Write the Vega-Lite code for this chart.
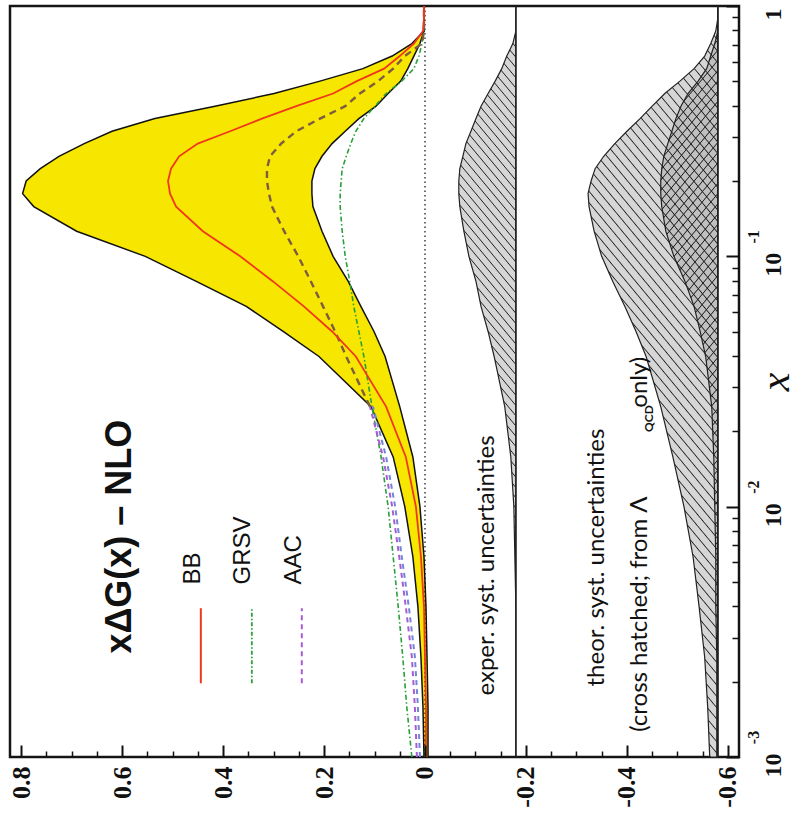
{
"$schema":"https://vega.github.io/schema/vega-lite/v6.json",
"width":729,"height":751,
"autosize":{"type":"none"},
"padding":{"left":10,"top":6,"right":69,"bottom":67},
"background":"white",
"config":{"view":{"stroke":"#151515","strokeWidth":2.5},"axis":{"grid":false,"labelFlush":false,"labelOverlap":false}},
"data":{"values":[
{"x":0.001,"yo":0.002,"yi":-0.006,"bb":-0.002,"aac":0.016,"aac2":0.010,"grsv":0.026,"eo":-0.18,"to":-0.564,"ti":-0.578},
{"x":0.00158,"yo":0.004,"yi":-0.006,"bb":-0.002,"aac":0.020,"aac2":0.014,"grsv":0.036,"eo":-0.18,"to":-0.56,"ti":-0.578},
{"x":0.00251,"yo":0.008,"yi":-0.004,"bb":0,"aac":0.026,"aac2":0.020,"grsv":0.044,"eo":-0.18,"to":-0.554,"ti":-0.578},
{"x":0.00398,"yo":0.014,"yi":-0.002,"bb":0.002,"aac":0.038,"aac2":0.032,"grsv":0.053,"eo":-0.18,"to":-0.543,"ti":-0.576},
{"x":0.00631,"yo":0.024,"yi":0.002,"bb":0.008,"aac":0.051,"aac2":0.046,"grsv":0.063,"eo":-0.178,"to":-0.531,"ti":-0.576},
{"x":0.01,"yo":0.04,"yi":0.01,"bb":0.018,"aac":0.065,"aac2":0.059,"grsv":0.073,"eo":-0.176,"to":-0.513,"ti":-0.574},
{"x":0.0158,"yo":0.063,"yi":0.024,"bb":0.038,"aac":0.083,"aac2":0.077,"grsv":0.087,"eo":-0.17,"to":-0.491,"ti":-0.572},
{"x":0.0251,"yo":0.107,"yi":0.05,"bb":0.077,"aac":0.109,"aac2":0.103,"grsv":0.105,"eo":-0.158,"to":-0.467,"ti":-0.568},
{"x":0.0398,"yo":0.21,"yi":0.079,"bb":0.137,"aac":0.156,"grsv":0.121,"eo":-0.137,"to":-0.438,"ti":-0.556},
{"x":0.0501,"yo":0.281,"yi":0.101,"bb":0.184,"aac":0.178,"grsv":0.131,"eo":-0.125,"to":-0.418,"ti":-0.545},
{"x":0.0631,"yo":0.354,"yi":0.127,"bb":0.24,"aac":0.202,"grsv":0.141,"eo":-0.111,"to":-0.396,"ti":-0.533},
{"x":0.0794,"yo":0.453,"yi":0.152,"bb":0.301,"aac":0.226,"grsv":0.149,"eo":-0.101,"to":-0.372,"ti":-0.515},
{"x":0.1,"yo":0.554,"yi":0.182,"bb":0.366,"aac":0.251,"grsv":0.158,"eo":-0.087,"to":-0.35,"ti":-0.493},
{"x":0.126,"yo":0.69,"yi":0.204,"bb":0.44,"aac":0.279,"grsv":0.164,"eo":-0.077,"to":-0.335,"ti":-0.477},
{"x":0.158,"yo":0.775,"yi":0.222,"bb":0.493,"aac":0.303,"grsv":0.168,"eo":-0.069,"to":-0.325,"ti":-0.469},
{"x":0.178,"yo":0.797,"yi":0.224,"bb":0.505,"aac":0.309,"grsv":0.168,"eo":-0.067,"to":-0.323,"ti":-0.467},
{"x":0.2,"yo":0.79,"yi":0.224,"bb":0.509,"aac":0.313,"grsv":0.166,"eo":-0.067,"to":-0.329,"ti":-0.467},
{"x":0.224,"yo":0.762,"yi":0.218,"bb":0.503,"aac":0.313,"grsv":0.164,"eo":-0.069,"to":-0.337,"ti":-0.469},
{"x":0.251,"yo":0.725,"yi":0.204,"bb":0.487,"aac":0.307,"grsv":0.156,"eo":-0.075,"to":-0.354,"ti":-0.473},
{"x":0.282,"yo":0.675,"yi":0.184,"bb":0.45,"aac":0.285,"grsv":0.147,"eo":-0.081,"to":-0.376,"ti":-0.481},
{"x":0.316,"yo":0.62,"yi":0.158,"bb":0.386,"aac":0.255,"grsv":0.137,"eo":-0.091,"to":-0.4,"ti":-0.489},
{"x":0.355,"yo":0.535,"yi":0.131,"bb":0.323,"aac":0.208,"grsv":0.121,"eo":-0.101,"to":-0.426,"ti":-0.497},
{"x":0.398,"yo":0.416,"yi":0.097,"bb":0.255,"aac":0.158,"grsv":0.099,"eo":-0.111,"to":-0.45,"ti":-0.507},
{"x":0.447,"yo":0.299,"yi":0.073,"bb":0.182,"aac":0.129,"grsv":0.077,"eo":-0.125,"to":-0.475,"ti":-0.521},
{"x":0.501,"yo":0.208,"yi":0.048,"bb":0.135,"aac":0.093,"grsv":0.046,"eo":-0.139,"to":-0.505,"ti":-0.541},
{"x":0.562,"yo":0.123,"yi":0.034,"bb":0.081,"aac":0.063,"grsv":0.022,"eo":-0.152,"to":-0.533,"ti":-0.558},
{"x":0.631,"yo":0.065,"yi":0.022,"bb":0.05,"aac":0.04,"grsv":0.012,"eo":-0.162,"to":-0.554,"ti":-0.566},
{"x":0.708,"yo":0.026,"yi":0.01,"bb":0.022,"aac":0.006,"grsv":0.006,"eo":-0.174,"to":-0.566,"ti":-0.574},
{"x":0.794,"yo":0.002,"yi":0.002,"bb":0.004,"aac":0.002,"grsv":0.002,"eo":-0.18,"to":-0.576,"ti":-0.58},
{"x":0.891,"yo":0.002,"yi":0.002,"bb":0.002,"aac":0.002,"grsv":0.002,"eo":-0.18,"to":-0.58,"ti":-0.58},
{"x":1,"yo":0.002,"yi":0.002,"bb":0.002,"aac":0.002,"grsv":0.002,"eo":-0.18,"to":-0.58,"ti":-0.58}
]},
"layer":[
{"mark":{"type":"area","orient":"horizontal","fill":"#f6e600","stroke":null},
 "encoding":{
  "x":{"field":"yo","type":"quantitative","scale":{"domain":[-0.622,0.822],"reverse":true,"nice":false,"zero":false},
   "axis":{"orient":"bottom","values":[0.8,0.6,0.4,0.2,0,-0.2,-0.4,-0.6],"labelExpr":"datum.value == 0 ? '0' : (datum.value < 0 ? '-' : '') + format(abs(datum.value), '.1f')","labelAngle":270,"labelAlign":"right","labelBaseline":"middle","labelFont":"Liberation Serif","labelFontWeight":"bold","labelFontSize":26,"labelColor":"#111","labelPadding":9,"ticks":false,"domain":false,"title":null}},
  "x2":{"field":"yi"},
  "y":{"field":"x","type":"quantitative","scale":{"type":"log","domain":[0.001,1],"nice":false},
   "axis":{"orient":"right","values":[0.001,0.01,0.1,1],"labelExpr":"datum.value > 0.5 ? '1' : '10'","labelAngle":270,"labelAlign":"center","labelBaseline":"top","labelFont":"Liberation Serif","labelFontWeight":"bold","labelFontSize":24,"labelColor":"#111","labelPadding":22,"labelOffset":8,"ticks":false,"domain":false,"title":"x","titleFont":"Liberation Serif","titleFontStyle":"italic","titleFontWeight":"normal","titleFontSize":42,"titleAngle":270,"titleBaseline":"middle","titlePadding":-10,"titleColor":"#111"}}}},
{"mark":{"type":"area","orient":"horizontal","stroke":"#222","strokeWidth":1.2,"fill":{"gradient":"linear","x1":0,"y1":1,"x2":0.0986,"y2":-0.0821,"stops":[
{"offset":0,"color":"#d6d6d6"},
{"offset":0.011,"color":"#d6d6d6"},{"offset":0.0125,"color":"#222"},{"offset":0.014,"color":"#d6d6d6"},
{"offset":0.0235,"color":"#d6d6d6"},{"offset":0.025,"color":"#222"},{"offset":0.0265,"color":"#d6d6d6"},
{"offset":0.036,"color":"#d6d6d6"},{"offset":0.0375,"color":"#222"},{"offset":0.039,"color":"#d6d6d6"},
{"offset":0.0485,"color":"#d6d6d6"},{"offset":0.05,"color":"#222"},{"offset":0.0515,"color":"#d6d6d6"},
{"offset":0.061,"color":"#d6d6d6"},{"offset":0.0625,"color":"#222"},{"offset":0.064,"color":"#d6d6d6"},
{"offset":0.0735,"color":"#d6d6d6"},{"offset":0.075,"color":"#222"},{"offset":0.0765,"color":"#d6d6d6"},
{"offset":0.086,"color":"#d6d6d6"},{"offset":0.0875,"color":"#222"},{"offset":0.089,"color":"#d6d6d6"},
{"offset":0.0985,"color":"#d6d6d6"},{"offset":0.1,"color":"#222"},{"offset":0.1015,"color":"#d6d6d6"},
{"offset":0.111,"color":"#d6d6d6"},{"offset":0.1125,"color":"#222"},{"offset":0.114,"color":"#d6d6d6"},
{"offset":0.1235,"color":"#d6d6d6"},{"offset":0.125,"color":"#222"},{"offset":0.1265,"color":"#d6d6d6"},
{"offset":0.136,"color":"#d6d6d6"},{"offset":0.1375,"color":"#222"},{"offset":0.139,"color":"#d6d6d6"},
{"offset":0.1485,"color":"#d6d6d6"},{"offset":0.15,"color":"#222"},{"offset":0.1515,"color":"#d6d6d6"},
{"offset":0.161,"color":"#d6d6d6"},{"offset":0.1625,"color":"#222"},{"offset":0.164,"color":"#d6d6d6"},
{"offset":0.1735,"color":"#d6d6d6"},{"offset":0.175,"color":"#222"},{"offset":0.1765,"color":"#d6d6d6"},
{"offset":0.186,"color":"#d6d6d6"},{"offset":0.1875,"color":"#222"},{"offset":0.189,"color":"#d6d6d6"},
{"offset":0.1985,"color":"#d6d6d6"},{"offset":0.2,"color":"#222"},{"offset":0.2015,"color":"#d6d6d6"},
{"offset":0.211,"color":"#d6d6d6"},{"offset":0.2125,"color":"#222"},{"offset":0.214,"color":"#d6d6d6"},
{"offset":0.2235,"color":"#d6d6d6"},{"offset":0.225,"color":"#222"},{"offset":0.2265,"color":"#d6d6d6"},
{"offset":0.236,"color":"#d6d6d6"},{"offset":0.2375,"color":"#222"},{"offset":0.239,"color":"#d6d6d6"},
{"offset":0.2485,"color":"#d6d6d6"},{"offset":0.25,"color":"#222"},{"offset":0.2515,"color":"#d6d6d6"},
{"offset":0.261,"color":"#d6d6d6"},{"offset":0.2625,"color":"#222"},{"offset":0.264,"color":"#d6d6d6"},
{"offset":0.2735,"color":"#d6d6d6"},{"offset":0.275,"color":"#222"},{"offset":0.2765,"color":"#d6d6d6"},
{"offset":0.286,"color":"#d6d6d6"},{"offset":0.2875,"color":"#222"},{"offset":0.289,"color":"#d6d6d6"},
{"offset":0.2985,"color":"#d6d6d6"},{"offset":0.3,"color":"#222"},{"offset":0.3015,"color":"#d6d6d6"},
{"offset":0.311,"color":"#d6d6d6"},{"offset":0.3125,"color":"#222"},{"offset":0.314,"color":"#d6d6d6"},
{"offset":0.3235,"color":"#d6d6d6"},{"offset":0.325,"color":"#222"},{"offset":0.3265,"color":"#d6d6d6"},
{"offset":0.336,"color":"#d6d6d6"},{"offset":0.3375,"color":"#222"},{"offset":0.339,"color":"#d6d6d6"},
{"offset":0.3485,"color":"#d6d6d6"},{"offset":0.35,"color":"#222"},{"offset":0.3515,"color":"#d6d6d6"},
{"offset":0.361,"color":"#d6d6d6"},{"offset":0.3625,"color":"#222"},{"offset":0.364,"color":"#d6d6d6"},
{"offset":0.3735,"color":"#d6d6d6"},{"offset":0.375,"color":"#222"},{"offset":0.3765,"color":"#d6d6d6"},
{"offset":0.386,"color":"#d6d6d6"},{"offset":0.3875,"color":"#222"},{"offset":0.389,"color":"#d6d6d6"},
{"offset":0.3985,"color":"#d6d6d6"},{"offset":0.4,"color":"#222"},{"offset":0.4015,"color":"#d6d6d6"},
{"offset":0.411,"color":"#d6d6d6"},{"offset":0.4125,"color":"#222"},{"offset":0.414,"color":"#d6d6d6"},
{"offset":0.4235,"color":"#d6d6d6"},{"offset":0.425,"color":"#222"},{"offset":0.4265,"color":"#d6d6d6"},
{"offset":0.436,"color":"#d6d6d6"},{"offset":0.4375,"color":"#222"},{"offset":0.439,"color":"#d6d6d6"},
{"offset":0.4485,"color":"#d6d6d6"},{"offset":0.45,"color":"#222"},{"offset":0.4515,"color":"#d6d6d6"},
{"offset":0.461,"color":"#d6d6d6"},{"offset":0.4625,"color":"#222"},{"offset":0.464,"color":"#d6d6d6"},
{"offset":0.4735,"color":"#d6d6d6"},{"offset":0.475,"color":"#222"},{"offset":0.4765,"color":"#d6d6d6"},
{"offset":0.486,"color":"#d6d6d6"},{"offset":0.4875,"color":"#222"},{"offset":0.489,"color":"#d6d6d6"},
{"offset":0.4985,"color":"#d6d6d6"},{"offset":0.5,"color":"#222"},{"offset":0.5015,"color":"#d6d6d6"},
{"offset":0.511,"color":"#d6d6d6"},{"offset":0.5125,"color":"#222"},{"offset":0.514,"color":"#d6d6d6"},
{"offset":0.5235,"color":"#d6d6d6"},{"offset":0.525,"color":"#222"},{"offset":0.5265,"color":"#d6d6d6"},
{"offset":0.536,"color":"#d6d6d6"},{"offset":0.5375,"color":"#222"},{"offset":0.539,"color":"#d6d6d6"},
{"offset":0.5485,"color":"#d6d6d6"},{"offset":0.55,"color":"#222"},{"offset":0.5515,"color":"#d6d6d6"},
{"offset":0.561,"color":"#d6d6d6"},{"offset":0.5625,"color":"#222"},{"offset":0.564,"color":"#d6d6d6"},
{"offset":0.5735,"color":"#d6d6d6"},{"offset":0.575,"color":"#222"},{"offset":0.5765,"color":"#d6d6d6"},
{"offset":0.586,"color":"#d6d6d6"},{"offset":0.5875,"color":"#222"},{"offset":0.589,"color":"#d6d6d6"},
{"offset":0.5985,"color":"#d6d6d6"},{"offset":0.6,"color":"#222"},{"offset":0.6015,"color":"#d6d6d6"},
{"offset":0.611,"color":"#d6d6d6"},{"offset":0.6125,"color":"#222"},{"offset":0.614,"color":"#d6d6d6"},
{"offset":0.6235,"color":"#d6d6d6"},{"offset":0.625,"color":"#222"},{"offset":0.6265,"color":"#d6d6d6"},
{"offset":0.636,"color":"#d6d6d6"},{"offset":0.6375,"color":"#222"},{"offset":0.639,"color":"#d6d6d6"},
{"offset":0.6485,"color":"#d6d6d6"},{"offset":0.65,"color":"#222"},{"offset":0.6515,"color":"#d6d6d6"},
{"offset":0.661,"color":"#d6d6d6"},{"offset":0.6625,"color":"#222"},{"offset":0.664,"color":"#d6d6d6"},
{"offset":0.6735,"color":"#d6d6d6"},{"offset":0.675,"color":"#222"},{"offset":0.6765,"color":"#d6d6d6"},
{"offset":0.686,"color":"#d6d6d6"},{"offset":0.6875,"color":"#222"},{"offset":0.689,"color":"#d6d6d6"},
{"offset":0.6985,"color":"#d6d6d6"},{"offset":0.7,"color":"#222"},{"offset":0.7015,"color":"#d6d6d6"},
{"offset":0.711,"color":"#d6d6d6"},{"offset":0.7125,"color":"#222"},{"offset":0.714,"color":"#d6d6d6"},
{"offset":0.7235,"color":"#d6d6d6"},{"offset":0.725,"color":"#222"},{"offset":0.7265,"color":"#d6d6d6"},
{"offset":0.736,"color":"#d6d6d6"},{"offset":0.7375,"color":"#222"},{"offset":0.739,"color":"#d6d6d6"},
{"offset":0.7485,"color":"#d6d6d6"},{"offset":0.75,"color":"#222"},{"offset":0.7515,"color":"#d6d6d6"},
{"offset":0.761,"color":"#d6d6d6"},{"offset":0.7625,"color":"#222"},{"offset":0.764,"color":"#d6d6d6"},
{"offset":0.7735,"color":"#d6d6d6"},{"offset":0.775,"color":"#222"},{"offset":0.7765,"color":"#d6d6d6"},
{"offset":0.786,"color":"#d6d6d6"},{"offset":0.7875,"color":"#222"},{"offset":0.789,"color":"#d6d6d6"},
{"offset":0.7985,"color":"#d6d6d6"},{"offset":0.8,"color":"#222"},{"offset":0.8015,"color":"#d6d6d6"},
{"offset":0.811,"color":"#d6d6d6"},{"offset":0.8125,"color":"#222"},{"offset":0.814,"color":"#d6d6d6"},
{"offset":0.8235,"color":"#d6d6d6"},{"offset":0.825,"color":"#222"},{"offset":0.8265,"color":"#d6d6d6"},
{"offset":0.836,"color":"#d6d6d6"},{"offset":0.8375,"color":"#222"},{"offset":0.839,"color":"#d6d6d6"},
{"offset":0.8485,"color":"#d6d6d6"},{"offset":0.85,"color":"#222"},{"offset":0.8515,"color":"#d6d6d6"},
{"offset":0.861,"color":"#d6d6d6"},{"offset":0.8625,"color":"#222"},{"offset":0.864,"color":"#d6d6d6"},
{"offset":0.8735,"color":"#d6d6d6"},{"offset":0.875,"color":"#222"},{"offset":0.8765,"color":"#d6d6d6"},
{"offset":0.886,"color":"#d6d6d6"},{"offset":0.8875,"color":"#222"},{"offset":0.889,"color":"#d6d6d6"},
{"offset":0.8985,"color":"#d6d6d6"},{"offset":0.9,"color":"#222"},{"offset":0.9015,"color":"#d6d6d6"},
{"offset":0.911,"color":"#d6d6d6"},{"offset":0.9125,"color":"#222"},{"offset":0.914,"color":"#d6d6d6"},
{"offset":0.9235,"color":"#d6d6d6"},{"offset":0.925,"color":"#222"},{"offset":0.9265,"color":"#d6d6d6"},
{"offset":0.936,"color":"#d6d6d6"},{"offset":0.9375,"color":"#222"},{"offset":0.939,"color":"#d6d6d6"},
{"offset":0.9485,"color":"#d6d6d6"},{"offset":0.95,"color":"#222"},{"offset":0.9515,"color":"#d6d6d6"},
{"offset":0.961,"color":"#d6d6d6"},{"offset":0.9625,"color":"#222"},{"offset":0.964,"color":"#d6d6d6"},
{"offset":0.9735,"color":"#d6d6d6"},{"offset":0.975,"color":"#222"},{"offset":0.9765,"color":"#d6d6d6"},
{"offset":0.986,"color":"#d6d6d6"},{"offset":0.9875,"color":"#222"},{"offset":0.989,"color":"#d6d6d6"},
{"offset":1,"color":"#d6d6d6"}]}},
 "encoding":{
  "x":{"field":"eo","type":"quantitative","scale":{"domain":[-0.622,0.822],"reverse":true,"nice":false,"zero":false},"axis":null},
  "x2":{"datum":-0.18},
  "y":{"field":"x","type":"quantitative","scale":{"type":"log","domain":[0.001,1],"nice":false},"axis":null}}},
{"mark":{"type":"area","orient":"horizontal","stroke":"#222","strokeWidth":1.2,"fill":{"gradient":"linear","x1":0,"y1":1,"x2":0.2405,"y2":-0.1577,"stops":[
{"offset":0,"color":"#d6d6d6"},
{"offset":0.011,"color":"#d6d6d6"},{"offset":0.0125,"color":"#222"},{"offset":0.014,"color":"#d6d6d6"},
{"offset":0.0235,"color":"#d6d6d6"},{"offset":0.025,"color":"#222"},{"offset":0.0265,"color":"#d6d6d6"},
{"offset":0.036,"color":"#d6d6d6"},{"offset":0.0375,"color":"#222"},{"offset":0.039,"color":"#d6d6d6"},
{"offset":0.0485,"color":"#d6d6d6"},{"offset":0.05,"color":"#222"},{"offset":0.0515,"color":"#d6d6d6"},
{"offset":0.061,"color":"#d6d6d6"},{"offset":0.0625,"color":"#222"},{"offset":0.064,"color":"#d6d6d6"},
{"offset":0.0735,"color":"#d6d6d6"},{"offset":0.075,"color":"#222"},{"offset":0.0765,"color":"#d6d6d6"},
{"offset":0.086,"color":"#d6d6d6"},{"offset":0.0875,"color":"#222"},{"offset":0.089,"color":"#d6d6d6"},
{"offset":0.0985,"color":"#d6d6d6"},{"offset":0.1,"color":"#222"},{"offset":0.1015,"color":"#d6d6d6"},
{"offset":0.111,"color":"#d6d6d6"},{"offset":0.1125,"color":"#222"},{"offset":0.114,"color":"#d6d6d6"},
{"offset":0.1235,"color":"#d6d6d6"},{"offset":0.125,"color":"#222"},{"offset":0.1265,"color":"#d6d6d6"},
{"offset":0.136,"color":"#d6d6d6"},{"offset":0.1375,"color":"#222"},{"offset":0.139,"color":"#d6d6d6"},
{"offset":0.1485,"color":"#d6d6d6"},{"offset":0.15,"color":"#222"},{"offset":0.1515,"color":"#d6d6d6"},
{"offset":0.161,"color":"#d6d6d6"},{"offset":0.1625,"color":"#222"},{"offset":0.164,"color":"#d6d6d6"},
{"offset":0.1735,"color":"#d6d6d6"},{"offset":0.175,"color":"#222"},{"offset":0.1765,"color":"#d6d6d6"},
{"offset":0.186,"color":"#d6d6d6"},{"offset":0.1875,"color":"#222"},{"offset":0.189,"color":"#d6d6d6"},
{"offset":0.1985,"color":"#d6d6d6"},{"offset":0.2,"color":"#222"},{"offset":0.2015,"color":"#d6d6d6"},
{"offset":0.211,"color":"#d6d6d6"},{"offset":0.2125,"color":"#222"},{"offset":0.214,"color":"#d6d6d6"},
{"offset":0.2235,"color":"#d6d6d6"},{"offset":0.225,"color":"#222"},{"offset":0.2265,"color":"#d6d6d6"},
{"offset":0.236,"color":"#d6d6d6"},{"offset":0.2375,"color":"#222"},{"offset":0.239,"color":"#d6d6d6"},
{"offset":0.2485,"color":"#d6d6d6"},{"offset":0.25,"color":"#222"},{"offset":0.2515,"color":"#d6d6d6"},
{"offset":0.261,"color":"#d6d6d6"},{"offset":0.2625,"color":"#222"},{"offset":0.264,"color":"#d6d6d6"},
{"offset":0.2735,"color":"#d6d6d6"},{"offset":0.275,"color":"#222"},{"offset":0.2765,"color":"#d6d6d6"},
{"offset":0.286,"color":"#d6d6d6"},{"offset":0.2875,"color":"#222"},{"offset":0.289,"color":"#d6d6d6"},
{"offset":0.2985,"color":"#d6d6d6"},{"offset":0.3,"color":"#222"},{"offset":0.3015,"color":"#d6d6d6"},
{"offset":0.311,"color":"#d6d6d6"},{"offset":0.3125,"color":"#222"},{"offset":0.314,"color":"#d6d6d6"},
{"offset":0.3235,"color":"#d6d6d6"},{"offset":0.325,"color":"#222"},{"offset":0.3265,"color":"#d6d6d6"},
{"offset":0.336,"color":"#d6d6d6"},{"offset":0.3375,"color":"#222"},{"offset":0.339,"color":"#d6d6d6"},
{"offset":0.3485,"color":"#d6d6d6"},{"offset":0.35,"color":"#222"},{"offset":0.3515,"color":"#d6d6d6"},
{"offset":0.361,"color":"#d6d6d6"},{"offset":0.3625,"color":"#222"},{"offset":0.364,"color":"#d6d6d6"},
{"offset":0.3735,"color":"#d6d6d6"},{"offset":0.375,"color":"#222"},{"offset":0.3765,"color":"#d6d6d6"},
{"offset":0.386,"color":"#d6d6d6"},{"offset":0.3875,"color":"#222"},{"offset":0.389,"color":"#d6d6d6"},
{"offset":0.3985,"color":"#d6d6d6"},{"offset":0.4,"color":"#222"},{"offset":0.4015,"color":"#d6d6d6"},
{"offset":0.411,"color":"#d6d6d6"},{"offset":0.4125,"color":"#222"},{"offset":0.414,"color":"#d6d6d6"},
{"offset":0.4235,"color":"#d6d6d6"},{"offset":0.425,"color":"#222"},{"offset":0.4265,"color":"#d6d6d6"},
{"offset":0.436,"color":"#d6d6d6"},{"offset":0.4375,"color":"#222"},{"offset":0.439,"color":"#d6d6d6"},
{"offset":0.4485,"color":"#d6d6d6"},{"offset":0.45,"color":"#222"},{"offset":0.4515,"color":"#d6d6d6"},
{"offset":0.461,"color":"#d6d6d6"},{"offset":0.4625,"color":"#222"},{"offset":0.464,"color":"#d6d6d6"},
{"offset":0.4735,"color":"#d6d6d6"},{"offset":0.475,"color":"#222"},{"offset":0.4765,"color":"#d6d6d6"},
{"offset":0.486,"color":"#d6d6d6"},{"offset":0.4875,"color":"#222"},{"offset":0.489,"color":"#d6d6d6"},
{"offset":0.4985,"color":"#d6d6d6"},{"offset":0.5,"color":"#222"},{"offset":0.5015,"color":"#d6d6d6"},
{"offset":0.511,"color":"#d6d6d6"},{"offset":0.5125,"color":"#222"},{"offset":0.514,"color":"#d6d6d6"},
{"offset":0.5235,"color":"#d6d6d6"},{"offset":0.525,"color":"#222"},{"offset":0.5265,"color":"#d6d6d6"},
{"offset":0.536,"color":"#d6d6d6"},{"offset":0.5375,"color":"#222"},{"offset":0.539,"color":"#d6d6d6"},
{"offset":0.5485,"color":"#d6d6d6"},{"offset":0.55,"color":"#222"},{"offset":0.5515,"color":"#d6d6d6"},
{"offset":0.561,"color":"#d6d6d6"},{"offset":0.5625,"color":"#222"},{"offset":0.564,"color":"#d6d6d6"},
{"offset":0.5735,"color":"#d6d6d6"},{"offset":0.575,"color":"#222"},{"offset":0.5765,"color":"#d6d6d6"},
{"offset":0.586,"color":"#d6d6d6"},{"offset":0.5875,"color":"#222"},{"offset":0.589,"color":"#d6d6d6"},
{"offset":0.5985,"color":"#d6d6d6"},{"offset":0.6,"color":"#222"},{"offset":0.6015,"color":"#d6d6d6"},
{"offset":0.611,"color":"#d6d6d6"},{"offset":0.6125,"color":"#222"},{"offset":0.614,"color":"#d6d6d6"},
{"offset":0.6235,"color":"#d6d6d6"},{"offset":0.625,"color":"#222"},{"offset":0.6265,"color":"#d6d6d6"},
{"offset":0.636,"color":"#d6d6d6"},{"offset":0.6375,"color":"#222"},{"offset":0.639,"color":"#d6d6d6"},
{"offset":0.6485,"color":"#d6d6d6"},{"offset":0.65,"color":"#222"},{"offset":0.6515,"color":"#d6d6d6"},
{"offset":0.661,"color":"#d6d6d6"},{"offset":0.6625,"color":"#222"},{"offset":0.664,"color":"#d6d6d6"},
{"offset":0.6735,"color":"#d6d6d6"},{"offset":0.675,"color":"#222"},{"offset":0.6765,"color":"#d6d6d6"},
{"offset":0.686,"color":"#d6d6d6"},{"offset":0.6875,"color":"#222"},{"offset":0.689,"color":"#d6d6d6"},
{"offset":0.6985,"color":"#d6d6d6"},{"offset":0.7,"color":"#222"},{"offset":0.7015,"color":"#d6d6d6"},
{"offset":0.711,"color":"#d6d6d6"},{"offset":0.7125,"color":"#222"},{"offset":0.714,"color":"#d6d6d6"},
{"offset":0.7235,"color":"#d6d6d6"},{"offset":0.725,"color":"#222"},{"offset":0.7265,"color":"#d6d6d6"},
{"offset":0.736,"color":"#d6d6d6"},{"offset":0.7375,"color":"#222"},{"offset":0.739,"color":"#d6d6d6"},
{"offset":0.7485,"color":"#d6d6d6"},{"offset":0.75,"color":"#222"},{"offset":0.7515,"color":"#d6d6d6"},
{"offset":0.761,"color":"#d6d6d6"},{"offset":0.7625,"color":"#222"},{"offset":0.764,"color":"#d6d6d6"},
{"offset":0.7735,"color":"#d6d6d6"},{"offset":0.775,"color":"#222"},{"offset":0.7765,"color":"#d6d6d6"},
{"offset":0.786,"color":"#d6d6d6"},{"offset":0.7875,"color":"#222"},{"offset":0.789,"color":"#d6d6d6"},
{"offset":0.7985,"color":"#d6d6d6"},{"offset":0.8,"color":"#222"},{"offset":0.8015,"color":"#d6d6d6"},
{"offset":0.811,"color":"#d6d6d6"},{"offset":0.8125,"color":"#222"},{"offset":0.814,"color":"#d6d6d6"},
{"offset":0.8235,"color":"#d6d6d6"},{"offset":0.825,"color":"#222"},{"offset":0.8265,"color":"#d6d6d6"},
{"offset":0.836,"color":"#d6d6d6"},{"offset":0.8375,"color":"#222"},{"offset":0.839,"color":"#d6d6d6"},
{"offset":0.8485,"color":"#d6d6d6"},{"offset":0.85,"color":"#222"},{"offset":0.8515,"color":"#d6d6d6"},
{"offset":0.861,"color":"#d6d6d6"},{"offset":0.8625,"color":"#222"},{"offset":0.864,"color":"#d6d6d6"},
{"offset":0.8735,"color":"#d6d6d6"},{"offset":0.875,"color":"#222"},{"offset":0.8765,"color":"#d6d6d6"},
{"offset":0.886,"color":"#d6d6d6"},{"offset":0.8875,"color":"#222"},{"offset":0.889,"color":"#d6d6d6"},
{"offset":0.8985,"color":"#d6d6d6"},{"offset":0.9,"color":"#222"},{"offset":0.9015,"color":"#d6d6d6"},
{"offset":0.911,"color":"#d6d6d6"},{"offset":0.9125,"color":"#222"},{"offset":0.914,"color":"#d6d6d6"},
{"offset":0.9235,"color":"#d6d6d6"},{"offset":0.925,"color":"#222"},{"offset":0.9265,"color":"#d6d6d6"},
{"offset":0.936,"color":"#d6d6d6"},{"offset":0.9375,"color":"#222"},{"offset":0.939,"color":"#d6d6d6"},
{"offset":0.9485,"color":"#d6d6d6"},{"offset":0.95,"color":"#222"},{"offset":0.9515,"color":"#d6d6d6"},
{"offset":0.961,"color":"#d6d6d6"},{"offset":0.9625,"color":"#222"},{"offset":0.964,"color":"#d6d6d6"},
{"offset":0.9735,"color":"#d6d6d6"},{"offset":0.975,"color":"#222"},{"offset":0.9765,"color":"#d6d6d6"},
{"offset":0.986,"color":"#d6d6d6"},{"offset":0.9875,"color":"#222"},{"offset":0.989,"color":"#d6d6d6"},
{"offset":1,"color":"#d6d6d6"}]}},
 "encoding":{
  "x":{"field":"to","type":"quantitative","scale":{"domain":[-0.622,0.822],"reverse":true,"nice":false,"zero":false},"axis":null},
  "x2":{"datum":-0.58},
  "y":{"field":"x","type":"quantitative","scale":{"type":"log","domain":[0.001,1],"nice":false},"axis":null}}},
{"mark":{"type":"area","orient":"horizontal","fill":"#000","fillOpacity":0.1,"stroke":"#222","strokeWidth":1.2},
 "encoding":{
  "x":{"field":"ti","type":"quantitative","scale":{"domain":[-0.622,0.822],"reverse":true,"nice":false,"zero":false},"axis":null},
  "x2":{"datum":-0.58},
  "y":{"field":"x","type":"quantitative","scale":{"type":"log","domain":[0.001,1],"nice":false},"axis":null}}},
{"mark":{"type":"area","orient":"horizontal","stroke":null,"fill":{"gradient":"linear","x1":0,"y1":0,"x2":0.0986,"y2":1.0821,"stops":[
{"offset":0,"color":"transparent"},
{"offset":0.011,"color":"transparent"},{"offset":0.0125,"color":"#222"},{"offset":0.014,"color":"transparent"},
{"offset":0.0235,"color":"transparent"},{"offset":0.025,"color":"#222"},{"offset":0.0265,"color":"transparent"},
{"offset":0.036,"color":"transparent"},{"offset":0.0375,"color":"#222"},{"offset":0.039,"color":"transparent"},
{"offset":0.0485,"color":"transparent"},{"offset":0.05,"color":"#222"},{"offset":0.0515,"color":"transparent"},
{"offset":0.061,"color":"transparent"},{"offset":0.0625,"color":"#222"},{"offset":0.064,"color":"transparent"},
{"offset":0.0735,"color":"transparent"},{"offset":0.075,"color":"#222"},{"offset":0.0765,"color":"transparent"},
{"offset":0.086,"color":"transparent"},{"offset":0.0875,"color":"#222"},{"offset":0.089,"color":"transparent"},
{"offset":0.0985,"color":"transparent"},{"offset":0.1,"color":"#222"},{"offset":0.1015,"color":"transparent"},
{"offset":0.111,"color":"transparent"},{"offset":0.1125,"color":"#222"},{"offset":0.114,"color":"transparent"},
{"offset":0.1235,"color":"transparent"},{"offset":0.125,"color":"#222"},{"offset":0.1265,"color":"transparent"},
{"offset":0.136,"color":"transparent"},{"offset":0.1375,"color":"#222"},{"offset":0.139,"color":"transparent"},
{"offset":0.1485,"color":"transparent"},{"offset":0.15,"color":"#222"},{"offset":0.1515,"color":"transparent"},
{"offset":0.161,"color":"transparent"},{"offset":0.1625,"color":"#222"},{"offset":0.164,"color":"transparent"},
{"offset":0.1735,"color":"transparent"},{"offset":0.175,"color":"#222"},{"offset":0.1765,"color":"transparent"},
{"offset":0.186,"color":"transparent"},{"offset":0.1875,"color":"#222"},{"offset":0.189,"color":"transparent"},
{"offset":0.1985,"color":"transparent"},{"offset":0.2,"color":"#222"},{"offset":0.2015,"color":"transparent"},
{"offset":0.211,"color":"transparent"},{"offset":0.2125,"color":"#222"},{"offset":0.214,"color":"transparent"},
{"offset":0.2235,"color":"transparent"},{"offset":0.225,"color":"#222"},{"offset":0.2265,"color":"transparent"},
{"offset":0.236,"color":"transparent"},{"offset":0.2375,"color":"#222"},{"offset":0.239,"color":"transparent"},
{"offset":0.2485,"color":"transparent"},{"offset":0.25,"color":"#222"},{"offset":0.2515,"color":"transparent"},
{"offset":0.261,"color":"transparent"},{"offset":0.2625,"color":"#222"},{"offset":0.264,"color":"transparent"},
{"offset":0.2735,"color":"transparent"},{"offset":0.275,"color":"#222"},{"offset":0.2765,"color":"transparent"},
{"offset":0.286,"color":"transparent"},{"offset":0.2875,"color":"#222"},{"offset":0.289,"color":"transparent"},
{"offset":0.2985,"color":"transparent"},{"offset":0.3,"color":"#222"},{"offset":0.3015,"color":"transparent"},
{"offset":0.311,"color":"transparent"},{"offset":0.3125,"color":"#222"},{"offset":0.314,"color":"transparent"},
{"offset":0.3235,"color":"transparent"},{"offset":0.325,"color":"#222"},{"offset":0.3265,"color":"transparent"},
{"offset":0.336,"color":"transparent"},{"offset":0.3375,"color":"#222"},{"offset":0.339,"color":"transparent"},
{"offset":0.3485,"color":"transparent"},{"offset":0.35,"color":"#222"},{"offset":0.3515,"color":"transparent"},
{"offset":0.361,"color":"transparent"},{"offset":0.3625,"color":"#222"},{"offset":0.364,"color":"transparent"},
{"offset":0.3735,"color":"transparent"},{"offset":0.375,"color":"#222"},{"offset":0.3765,"color":"transparent"},
{"offset":0.386,"color":"transparent"},{"offset":0.3875,"color":"#222"},{"offset":0.389,"color":"transparent"},
{"offset":0.3985,"color":"transparent"},{"offset":0.4,"color":"#222"},{"offset":0.4015,"color":"transparent"},
{"offset":0.411,"color":"transparent"},{"offset":0.4125,"color":"#222"},{"offset":0.414,"color":"transparent"},
{"offset":0.4235,"color":"transparent"},{"offset":0.425,"color":"#222"},{"offset":0.4265,"color":"transparent"},
{"offset":0.436,"color":"transparent"},{"offset":0.4375,"color":"#222"},{"offset":0.439,"color":"transparent"},
{"offset":0.4485,"color":"transparent"},{"offset":0.45,"color":"#222"},{"offset":0.4515,"color":"transparent"},
{"offset":0.461,"color":"transparent"},{"offset":0.4625,"color":"#222"},{"offset":0.464,"color":"transparent"},
{"offset":0.4735,"color":"transparent"},{"offset":0.475,"color":"#222"},{"offset":0.4765,"color":"transparent"},
{"offset":0.486,"color":"transparent"},{"offset":0.4875,"color":"#222"},{"offset":0.489,"color":"transparent"},
{"offset":0.4985,"color":"transparent"},{"offset":0.5,"color":"#222"},{"offset":0.5015,"color":"transparent"},
{"offset":0.511,"color":"transparent"},{"offset":0.5125,"color":"#222"},{"offset":0.514,"color":"transparent"},
{"offset":0.5235,"color":"transparent"},{"offset":0.525,"color":"#222"},{"offset":0.5265,"color":"transparent"},
{"offset":0.536,"color":"transparent"},{"offset":0.5375,"color":"#222"},{"offset":0.539,"color":"transparent"},
{"offset":0.5485,"color":"transparent"},{"offset":0.55,"color":"#222"},{"offset":0.5515,"color":"transparent"},
{"offset":0.561,"color":"transparent"},{"offset":0.5625,"color":"#222"},{"offset":0.564,"color":"transparent"},
{"offset":0.5735,"color":"transparent"},{"offset":0.575,"color":"#222"},{"offset":0.5765,"color":"transparent"},
{"offset":0.586,"color":"transparent"},{"offset":0.5875,"color":"#222"},{"offset":0.589,"color":"transparent"},
{"offset":0.5985,"color":"transparent"},{"offset":0.6,"color":"#222"},{"offset":0.6015,"color":"transparent"},
{"offset":0.611,"color":"transparent"},{"offset":0.6125,"color":"#222"},{"offset":0.614,"color":"transparent"},
{"offset":0.6235,"color":"transparent"},{"offset":0.625,"color":"#222"},{"offset":0.6265,"color":"transparent"},
{"offset":0.636,"color":"transparent"},{"offset":0.6375,"color":"#222"},{"offset":0.639,"color":"transparent"},
{"offset":0.6485,"color":"transparent"},{"offset":0.65,"color":"#222"},{"offset":0.6515,"color":"transparent"},
{"offset":0.661,"color":"transparent"},{"offset":0.6625,"color":"#222"},{"offset":0.664,"color":"transparent"},
{"offset":0.6735,"color":"transparent"},{"offset":0.675,"color":"#222"},{"offset":0.6765,"color":"transparent"},
{"offset":0.686,"color":"transparent"},{"offset":0.6875,"color":"#222"},{"offset":0.689,"color":"transparent"},
{"offset":0.6985,"color":"transparent"},{"offset":0.7,"color":"#222"},{"offset":0.7015,"color":"transparent"},
{"offset":0.711,"color":"transparent"},{"offset":0.7125,"color":"#222"},{"offset":0.714,"color":"transparent"},
{"offset":0.7235,"color":"transparent"},{"offset":0.725,"color":"#222"},{"offset":0.7265,"color":"transparent"},
{"offset":0.736,"color":"transparent"},{"offset":0.7375,"color":"#222"},{"offset":0.739,"color":"transparent"},
{"offset":0.7485,"color":"transparent"},{"offset":0.75,"color":"#222"},{"offset":0.7515,"color":"transparent"},
{"offset":0.761,"color":"transparent"},{"offset":0.7625,"color":"#222"},{"offset":0.764,"color":"transparent"},
{"offset":0.7735,"color":"transparent"},{"offset":0.775,"color":"#222"},{"offset":0.7765,"color":"transparent"},
{"offset":0.786,"color":"transparent"},{"offset":0.7875,"color":"#222"},{"offset":0.789,"color":"transparent"},
{"offset":0.7985,"color":"transparent"},{"offset":0.8,"color":"#222"},{"offset":0.8015,"color":"transparent"},
{"offset":0.811,"color":"transparent"},{"offset":0.8125,"color":"#222"},{"offset":0.814,"color":"transparent"},
{"offset":0.8235,"color":"transparent"},{"offset":0.825,"color":"#222"},{"offset":0.8265,"color":"transparent"},
{"offset":0.836,"color":"transparent"},{"offset":0.8375,"color":"#222"},{"offset":0.839,"color":"transparent"},
{"offset":0.8485,"color":"transparent"},{"offset":0.85,"color":"#222"},{"offset":0.8515,"color":"transparent"},
{"offset":0.861,"color":"transparent"},{"offset":0.8625,"color":"#222"},{"offset":0.864,"color":"transparent"},
{"offset":0.8735,"color":"transparent"},{"offset":0.875,"color":"#222"},{"offset":0.8765,"color":"transparent"},
{"offset":0.886,"color":"transparent"},{"offset":0.8875,"color":"#222"},{"offset":0.889,"color":"transparent"},
{"offset":0.8985,"color":"transparent"},{"offset":0.9,"color":"#222"},{"offset":0.9015,"color":"transparent"},
{"offset":0.911,"color":"transparent"},{"offset":0.9125,"color":"#222"},{"offset":0.914,"color":"transparent"},
{"offset":0.9235,"color":"transparent"},{"offset":0.925,"color":"#222"},{"offset":0.9265,"color":"transparent"},
{"offset":0.936,"color":"transparent"},{"offset":0.9375,"color":"#222"},{"offset":0.939,"color":"transparent"},
{"offset":0.9485,"color":"transparent"},{"offset":0.95,"color":"#222"},{"offset":0.9515,"color":"transparent"},
{"offset":0.961,"color":"transparent"},{"offset":0.9625,"color":"#222"},{"offset":0.964,"color":"transparent"},
{"offset":0.9735,"color":"transparent"},{"offset":0.975,"color":"#222"},{"offset":0.9765,"color":"transparent"},
{"offset":0.986,"color":"transparent"},{"offset":0.9875,"color":"#222"},{"offset":0.989,"color":"transparent"},
{"offset":1,"color":"transparent"}]}},
 "encoding":{
  "x":{"field":"ti","type":"quantitative","scale":{"domain":[-0.622,0.822],"reverse":true,"nice":false,"zero":false},"axis":null},
  "x2":{"datum":-0.58},
  "y":{"field":"x","type":"quantitative","scale":{"type":"log","domain":[0.001,1],"nice":false},"axis":null}}},
{"data":{"values":[{}]},"mark":{"type":"rule","stroke":"#222","strokeWidth":1.3,"strokeDash":[1.5,3]},
 "encoding":{"x":{"datum":0,"type":"quantitative","scale":{"domain":[-0.622,0.822],"reverse":true,"nice":false,"zero":false},
  "axis":{"orient":"bottom","values":[0.8,0.6,0.4,0.2,0,-0.2,-0.4,-0.6],"labels":false,"domain":false,"tickSize":-12,"tickWidth":2,"tickColor":"#111","title":null,"zindex":1}}}},
{"data":{"values":[{}]},"mark":{"type":"rule","stroke":"#222","strokeWidth":1.5},
 "encoding":{"x":{"datum":-0.18,"type":"quantitative","scale":{"domain":[-0.622,0.822],"reverse":true,"nice":false,"zero":false},
  "axis":{"orient":"bottom","values":[0.75,0.7,0.65,0.55,0.5,0.45,0.35,0.3,0.25,0.15,0.1,0.05,-0.05,-0.1,-0.15,-0.25,-0.3,-0.35,-0.45,-0.5,-0.55],"labels":false,"domain":false,"tickSize":-6,"tickWidth":1.5,"tickColor":"#111","title":null,"zindex":1}}}},
{"data":{"values":[{}]},"mark":{"type":"rule","stroke":"#222","strokeWidth":1.5},
 "encoding":{"x":{"datum":-0.58,"type":"quantitative","scale":{"domain":[-0.622,0.822],"reverse":true,"nice":false,"zero":false},"axis":null}}},
{"mark":{"type":"line","stroke":"#111","strokeWidth":1.5},
 "encoding":{
  "x":{"field":"yo","type":"quantitative","scale":{"domain":[-0.622,0.822],"reverse":true,"nice":false,"zero":false},"axis":null},
  "y":{"field":"x","type":"quantitative","scale":{"type":"log","domain":[0.001,1],"nice":false},
   "axis":{"orient":"right","values":[0.001,0.01,0.1],"labelExpr":"'-' + round(-log(datum.value)/LN10)","labelAngle":270,"labelAlign":"center","labelBaseline":"top","labelFont":"Liberation Serif","labelFontWeight":"bold","labelFontSize":16,"labelColor":"#111","labelPadding":6,"labelOffset":-20,"ticks":false,"domain":false,"title":null}},
  "order":{"field":"x","type":"quantitative"}}},
{"mark":{"type":"line","stroke":"#111","strokeWidth":1.5},
 "encoding":{
  "x":{"field":"yi","type":"quantitative","scale":{"domain":[-0.622,0.822],"reverse":true,"nice":false,"zero":false},"axis":null},
  "y":{"field":"x","type":"quantitative","scale":{"type":"log","domain":[0.001,1],"nice":false},
   "axis":{"orient":"right","values":[0.001,0.01,0.1,1],"labels":false,"domain":false,"tickSize":-13,"tickWidth":2,"tickColor":"#111","title":null,"zindex":1}},
  "order":{"field":"x","type":"quantitative"}}},
{"mark":{"type":"line","stroke":"#2aa03a","strokeWidth":1.6,"strokeDash":[5,2.5,1.5,2.5]},
 "encoding":{
  "x":{"field":"grsv","type":"quantitative","scale":{"domain":[-0.622,0.822],"reverse":true,"nice":false,"zero":false},"axis":null},
  "y":{"field":"x","type":"quantitative","scale":{"type":"log","domain":[0.001,1],"nice":false},
   "axis":{"orient":"right","values":[0.002,0.003,0.004,0.005,0.006,0.007,0.008,0.009,0.02,0.03,0.04,0.05,0.06,0.07,0.08,0.09,0.2,0.3,0.4,0.5,0.6,0.7,0.8,0.9],"labels":false,"domain":false,"tickSize":-7,"tickWidth":1.5,"tickColor":"#111","title":null,"zindex":1}},
  "order":{"field":"x","type":"quantitative"}}},
{"transform":[{"filter":"datum.x >= 0.025"}],
 "mark":{"type":"line","stroke":"#7d5c42","strokeWidth":2.4,"strokeDash":[7,5]},
 "encoding":{
  "x":{"field":"aac","type":"quantitative","scale":{"domain":[-0.622,0.822],"reverse":true,"nice":false,"zero":false},"axis":null},
  "y":{"field":"x","type":"quantitative","scale":{"type":"log","domain":[0.001,1],"nice":false},"axis":null},
  "order":{"field":"x","type":"quantitative"}}},
{"transform":[{"filter":"datum.x <= 0.0252"}],
 "mark":{"type":"line","stroke":"#a95bd6","strokeWidth":2,"strokeDash":[5,4]},
 "encoding":{
  "x":{"field":"aac","type":"quantitative","scale":{"domain":[-0.622,0.822],"reverse":true,"nice":false,"zero":false},"axis":null},
  "y":{"field":"x","type":"quantitative","scale":{"type":"log","domain":[0.001,1],"nice":false},"axis":null},
  "order":{"field":"x","type":"quantitative"}}},
{"transform":[{"filter":"datum.aac2 != null"}],
 "mark":{"type":"line","stroke":"#6f86d8","strokeWidth":2,"strokeDash":[5,4]},
 "encoding":{
  "x":{"field":"aac2","type":"quantitative","scale":{"domain":[-0.622,0.822],"reverse":true,"nice":false,"zero":false},"axis":null},
  "y":{"field":"x","type":"quantitative","scale":{"type":"log","domain":[0.001,1],"nice":false},"axis":null},
  "order":{"field":"x","type":"quantitative"}}},
{"mark":{"type":"line","stroke":"#f0381e","strokeWidth":1.8},
 "encoding":{
  "x":{"field":"bb","type":"quantitative","scale":{"domain":[-0.622,0.822],"reverse":true,"nice":false,"zero":false},"axis":null},
  "y":{"field":"x","type":"quantitative","scale":{"type":"log","domain":[0.001,1],"nice":false},"axis":null},
  "order":{"field":"x","type":"quantitative"}}},
{"data":{"values":[{}]},"mark":{"type":"text","text":"x\u0394G(x) \u2013 NLO","angle":270,"align":"center","baseline":"middle","font":"Liberation Sans","fontWeight":"bold","fontSize":36,"fill":"#111"},
 "encoding":{"x":{"datum":0.604,"type":"quantitative","scale":{"domain":[-0.622,0.822],"reverse":true,"nice":false,"zero":false},"axis":null},
  "y":{"datum":0.00759,"type":"quantitative","scale":{"type":"log","domain":[0.001,1],"nice":false},"axis":null}}},
{"data":{"values":[{}]},"mark":{"type":"text","text":"BB","angle":270,"align":"left","baseline":"middle","font":"Liberation Sans","fontSize":24,"fill":"#111"},
 "encoding":{"x":{"datum":0.459,"type":"quantitative","scale":{"domain":[-0.622,0.822],"reverse":true,"nice":false,"zero":false},"axis":null},
  "y":{"datum":0.00489,"type":"quantitative","scale":{"type":"log","domain":[0.001,1],"nice":false},"axis":null}}},
{"data":{"values":[{}]},"mark":{"type":"text","text":"GRSV","angle":270,"align":"left","baseline":"middle","font":"Liberation Sans","fontSize":24,"fill":"#111"},
 "encoding":{"x":{"datum":0.36,"type":"quantitative","scale":{"domain":[-0.622,0.822],"reverse":true,"nice":false,"zero":false},"axis":null},
  "y":{"datum":0.00489,"type":"quantitative","scale":{"type":"log","domain":[0.001,1],"nice":false},"axis":null}}},
{"data":{"values":[{}]},"mark":{"type":"text","text":"AAC","angle":270,"align":"left","baseline":"middle","font":"Liberation Sans","fontSize":24,"fill":"#111"},
 "encoding":{"x":{"datum":0.259,"type":"quantitative","scale":{"domain":[-0.622,0.822],"reverse":true,"nice":false,"zero":false},"axis":null},
  "y":{"datum":0.00489,"type":"quantitative","scale":{"type":"log","domain":[0.001,1],"nice":false},"axis":null}}},
{"data":{"values":[{}]},"mark":{"type":"rule","stroke":"#f0381e","strokeWidth":2},
 "encoding":{"x":{"datum":0.444,"type":"quantitative","scale":{"domain":[-0.622,0.822],"reverse":true,"nice":false,"zero":false},"axis":null},
  "y":{"datum":0.00197,"type":"quantitative","scale":{"type":"log","domain":[0.001,1],"nice":false},"axis":null},"y2":{"datum":0.00393}}},
{"data":{"values":[{}]},"mark":{"type":"rule","stroke":"#2aa03a","strokeWidth":1.8,"strokeDash":[4,2,1.5,2]},
 "encoding":{"x":{"datum":0.343,"type":"quantitative","scale":{"domain":[-0.622,0.822],"reverse":true,"nice":false,"zero":false},"axis":null},
  "y":{"datum":0.00197,"type":"quantitative","scale":{"type":"log","domain":[0.001,1],"nice":false},"axis":null},"y2":{"datum":0.00393}}},
{"data":{"values":[{}]},"mark":{"type":"rule","stroke":"#a95bd6","strokeWidth":2,"strokeDash":[5,4]},
 "encoding":{"x":{"datum":0.244,"type":"quantitative","scale":{"domain":[-0.622,0.822],"reverse":true,"nice":false,"zero":false},"axis":null},
  "y":{"datum":0.00197,"type":"quantitative","scale":{"type":"log","domain":[0.001,1],"nice":false},"axis":null},"y2":{"datum":0.00393}}},
{"data":{"values":[{}]},"mark":{"type":"text","text":"exper. syst. uncertainties","angle":270,"align":"center","baseline":"middle","font":"Lato","fontSize":24,"fill":"#111"},
 "encoding":{"x":{"datum":-0.123,"type":"quantitative","scale":{"domain":[-0.622,0.822],"reverse":true,"nice":false,"zero":false},"axis":null},
  "y":{"datum":0.00582,"type":"quantitative","scale":{"type":"log","domain":[0.001,1],"nice":false},"axis":null}}},
{"data":{"values":[{}]},"mark":{"type":"text","text":"theor. syst. uncertainties","angle":270,"align":"center","baseline":"middle","font":"Lato","fontSize":24,"fill":"#111"},
 "encoding":{"x":{"datum":-0.341,"type":"quantitative","scale":{"domain":[-0.622,0.822],"reverse":true,"nice":false,"zero":false},"axis":null},
  "y":{"datum":0.00626,"type":"quantitative","scale":{"type":"log","domain":[0.001,1],"nice":false},"axis":null}}},
{"data":{"values":[{}]},"mark":{"type":"text","text":"(cross hatched; from \u039b","angle":270,"align":"left","baseline":"middle","font":"Lato","fontSize":24,"fill":"#111"},
 "encoding":{"x":{"datum":-0.426,"type":"quantitative","scale":{"domain":[-0.622,0.822],"reverse":true,"nice":false,"zero":false},"axis":null},
  "y":{"datum":0.00126,"type":"quantitative","scale":{"type":"log","domain":[0.001,1],"nice":false},"axis":null}}},
{"data":{"values":[{}]},"mark":{"type":"text","text":"QCD","angle":270,"align":"center","baseline":"middle","font":"Lato","fontSize":12,"fontWeight":"bold","fill":"#111"},
 "encoding":{"x":{"datum":-0.444,"type":"quantitative","scale":{"domain":[-0.622,0.822],"reverse":true,"nice":false,"zero":false},"axis":null},
  "y":{"datum":0.0225,"type":"quantitative","scale":{"type":"log","domain":[0.001,1],"nice":false},"axis":null}}},
{"data":{"values":[{}]},"mark":{"type":"text","text":"only)","angle":270,"align":"right","baseline":"middle","font":"Lato","fontSize":24,"fill":"#111"},
 "encoding":{"x":{"datum":-0.426,"type":"quantitative","scale":{"domain":[-0.622,0.822],"reverse":true,"nice":false,"zero":false},"axis":null},
  "y":{"datum":0.0397,"type":"quantitative","scale":{"type":"log","domain":[0.001,1],"nice":false},"axis":null}}}
],
"resolve":{"axis":{"x":"independent","y":"independent"}}
}
